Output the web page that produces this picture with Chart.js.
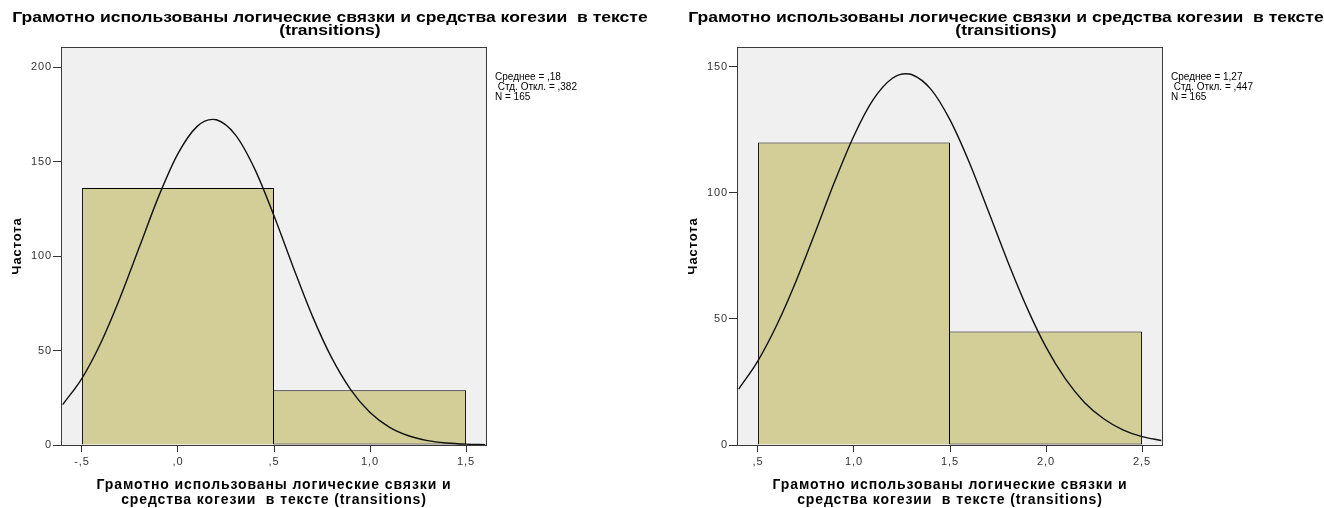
<!DOCTYPE html>
<html>
<head>
<meta charset="utf-8">
<script src="https://cdn.jsdelivr.net/npm/chart.js@4.4.0/dist/chart.umd.min.js"></script>
<style>
  body { margin: 0; background: #fff; width: 1324px; height: 508px; overflow: hidden; position: relative; }
  .box { position: absolute; top: 0; width: 660px; height: 508px; }
</style>
</head>
<body>
<div class="box" style="left:0"><canvas id="leftChart"></canvas></div>
<div class="box" style="left:676px"><canvas id="rightChart"></canvas></div>
<script>
const titleLines = ['Грамотно использованы логические связки и средства когезии  в тексте', '(transitions)'];
const xTitleLines = ['Грамотно использованы логические связки и', 'средства когезии  в тексте (transitions)'];
const yTitle = 'Частота';

// left histogram
const leftBinCenters = [0, 1];
const leftCounts = [136, 29];
const leftTicks = [-0.5, 0, 0.5, 1.0, 1.5];
const leftTickLabels = ['-,5', ',0', ',5', '1,0', '1,5'];
const leftYTicks = [0, 50, 100, 150, 200];
const leftCurveX = [-0.6, -0.5, -0.4, -0.3, -0.2, -0.1, 0, 0.1, 0.18, 0.2, 0.3, 0.4, 0.5, 0.6, 0.7, 0.8, 0.9, 1.0, 1.1, 1.2, 1.3, 1.4, 1.5, 1.6];
const leftCurveY = [21.4, 35.3, 54.4, 78.3, 105.0, 131.7, 154.2, 168.6, 172.3, 172.1, 164.0, 146.0, 121.3, 94.1, 68.2, 46.2, 29.2, 17.2, 9.5, 4.9, 2.3, 1.05, 0.44, 0.17];
const leftStats = ['Среднее = ,18', ' Стд. Откл. = ,382', 'N = 165'];

// right histogram
const rightBinCenters = [1, 2];
const rightCounts = [120, 45];
const rightTicks = [0.5, 1.0, 1.5, 2.0, 2.5];
const rightTickLabels = [',5', '1,0', '1,5', '2,0', '2,5'];
const rightYTicks = [0, 50, 100, 150];
const rightCurveX = [0.4, 0.5, 0.6, 0.7, 0.8, 0.9, 1.0, 1.1, 1.2, 1.27, 1.3, 1.4, 1.5, 1.6, 1.7, 1.8, 1.9, 2.0, 2.1, 2.2, 2.3, 2.4, 2.5, 2.6];
const rightCurveY = [22.2, 33.4, 47.9, 65.3, 84.7, 104.6, 122.7, 137.0, 145.5, 147.3, 147.0, 141.2, 129.0, 112.2, 92.7, 72.9, 54.6, 38.8, 26.3, 16.9, 10.4, 6.0, 3.3, 1.8];
const rightStats = ['Среднее = 1,27', ' Стд. Откл. = ,447', 'N = 165'];

const FONT = 'Arial, "Liberation Sans", sans-serif';

const frame = {
  id: 'frame',
  beforeDraw(chart) {
    chart.ctx.letterSpacing = '0.9px';
  },
  beforeDatasetsDraw(chart) {
    const { ctx, chartArea: a } = chart;
    ctx.save();
    ctx.fillStyle = '#f0f0f0';
    ctx.fillRect(a.left, a.top, a.right - a.left, a.bottom - a.top);
    ctx.restore();
  },
  afterDraw(chart, args, opts) {
    const { ctx, chartArea: a } = chart;
    ctx.save();
    ctx.strokeStyle = '#3a3a3a';
    ctx.lineWidth = 1;
    ctx.strokeRect(a.left + 0.5, a.top + 0.5, a.right - a.left - 1, a.bottom - a.top);
    // title, wider than the stock font
    ctx.fillStyle = '#000';
    ctx.textAlign = 'center';
    ctx.textBaseline = 'middle';
    ctx.font = 'bold 15px ' + FONT;
    ctx.letterSpacing = '0px';
    titleLines.forEach((t, i) => {
      ctx.save();
      ctx.translate(330, 18 + i * 13);
      ctx.scale(1.17, 1);
      ctx.fillText(t, 0, 0);
      ctx.restore();
    });
    // stats
    ctx.textAlign = 'left';
    ctx.font = '10px ' + FONT;
    opts.stats.forEach((t, i) => ctx.fillText(t, a.right + 8, 77 + i * 10));
    ctx.restore();
    ctx.letterSpacing = '0px';
  }
};

function makeChart(id, centers, counts, ticks, tickLabels, yTicks, yMax, xMin, xMax, cx, cy, stats) {
  return new Chart(document.getElementById(id), {
    data: {
      datasets: [
        {
          type: 'line',
          data: cx.map((x, i) => ({ x, y: cy[i] })),
          borderColor: '#111',
          borderWidth: 1.4,
          pointRadius: 0,
          tension: 0.4,
          cubicInterpolationMode: 'monotone',
          clip: 0,
          order: 0
        },
        {
          type: 'bar',
          data: centers.map((x, i) => ({ x, y: counts[i] })),
          backgroundColor: '#d3ce97',
          borderColor: '#000',
          borderWidth: 1,
          // neighbouring bars share one edge line
          borderSkipped: c => c.dataIndex > 0 ? 'left' : 'bottom',
          barPercentage: 1,
          // tick step is half a bin, bins span two tick gaps
          categoryPercentage: 2,
          order: 1
        }
      ]
    },
    options: {
      responsive: true,
      maintainAspectRatio: false,
      animation: false,
      layout: { padding: { top: 47, right: 173, left: 0, bottom: 0 } },
      plugins: { legend: { display: false }, tooltip: { enabled: false }, frame: { stats } },
      scales: {
        x: {
          type: 'linear',
          min: xMin,
          max: xMax,
          offset: false,
          afterBuildTicks: s => { s.ticks = ticks.map(v => ({ value: v })); },
          afterFit: s => { s.height = 63; },
          ticks: {
            callback: (v, i) => tickLabels[i],
            autoSkip: false,
            maxRotation: 0,
            font: { family: FONT, size: 11 },
            color: '#333',
            padding: 3
          },
          grid: { offset: false, drawOnChartArea: false, drawTicks: true, tickLength: 7, color: '#333' },
          border: { display: false },
          title: {
            display: true,
            text: xTitleLines,
            font: { family: FONT, size: 14, weight: 'bold', lineHeight: 1.1 },
            color: '#000',
            padding: { top: 0, bottom: 0 }
          }
        },
        y: {
          min: 0,
          max: yMax,
          afterBuildTicks: s => { s.ticks = yTicks.map(v => ({ value: v })); },
          afterFit: s => { s.width = 61; },
          ticks: {
            font: { family: FONT, size: 11 },
            color: '#333',
            padding: 1
          },
          grid: { drawOnChartArea: false, drawTicks: true, tickLength: 8, color: '#333' },
          border: { display: false },
          title: {
            display: true,
            text: yTitle,
            font: { family: FONT, size: 13, weight: 'bold' },
            color: '#000',
            padding: { top: 10, bottom: 0 }
          }
        }
      }
    },
    plugins: [frame]
  });
}

makeChart('leftChart', leftBinCenters, leftCounts, leftTicks, leftTickLabels, leftYTicks, 210.6, -0.609, 1.609, leftCurveX, leftCurveY, leftStats);
makeChart('rightChart', rightBinCenters, rightCounts, rightTicks, rightTickLabels, rightYTicks, 157.9, 0.391, 2.609, rightCurveX, rightCurveY, rightStats);
</script>
</body>
</html>
